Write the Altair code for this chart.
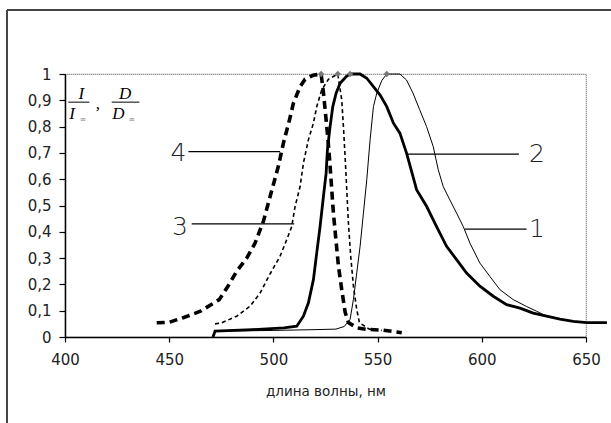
import altair as alt
import pandas as pd

# ---------------- data ----------------
wl1 = [471, 472, 500, 520, 530, 534, 536.8, 538.4, 540, 541.6, 543.2, 544.8, 546.4, 548, 549.6, 552, 554.4,
       557, 560.7, 563.9, 567, 570.2, 573.5, 576.7, 579.1, 581.5, 584.7, 587.9, 591.1, 594.3, 599.1, 603.9,
       608.7, 615.1, 621.5, 626.3, 631.1, 637.5, 643.9, 650.3, 660]
v1 = [0.0, 0.022, 0.025, 0.028, 0.03, 0.04, 0.067, 0.143, 0.244, 0.345, 0.471, 0.598, 0.75, 0.876, 0.927, 0.975, 1.0,
      1.0, 1.0, 0.977, 0.927, 0.864, 0.8, 0.724, 0.636, 0.572, 0.521, 0.471, 0.42, 0.357, 0.281, 0.23,
      0.18, 0.142, 0.116, 0.098, 0.079, 0.068, 0.059, 0.055, 0.055]

wl2 = [471, 472, 490, 505, 511.2, 514.4, 516.8, 519.2, 520.8, 522.4, 524, 525.3, 525.9, 527.2, 528.5, 530.1, 532,
       535.2, 536.8, 541.6, 544.8, 548, 551.2, 554.4, 557.6, 560.7, 563.9, 567, 568.7, 573.5, 578.3, 583.1,
       587.9, 592.7, 599.1, 605.5, 611.9, 618.3, 624.7, 631.1, 637.5, 643.9, 650.3, 660]
v2 = [0.0, 0.022, 0.028, 0.035, 0.041, 0.079, 0.13, 0.218, 0.32, 0.42, 0.534, 0.623, 0.71, 0.8, 0.876, 0.927, 0.965,
      0.992, 1.0, 1.0, 0.984, 0.952, 0.92, 0.876, 0.813, 0.775, 0.699, 0.61, 0.56, 0.497, 0.42, 0.345,
      0.294, 0.243, 0.193, 0.155, 0.123, 0.11, 0.091, 0.079, 0.068, 0.059, 0.055, 0.055]

wl3 = [472, 475.2, 482.4, 488.8, 493.6, 498.4, 503.2, 506.4, 508.8, 510.4, 512.8, 514.4, 516.8, 519.2, 520.8,
       523.2, 526.4, 530.9, 532.8, 533.6, 534.4, 535.2, 536, 537.1, 538.4, 540, 541.3, 546, 552]
v3 = [0.05, 0.054, 0.079, 0.117, 0.167, 0.24, 0.307, 0.37, 0.42, 0.496, 0.572, 0.661, 0.75, 0.813, 0.876,
      0.94, 0.98, 1.0, 0.901, 0.8, 0.686, 0.56, 0.433, 0.307, 0.193, 0.104, 0.054, 0.03, 0.025]

wl4 = [444, 450, 457, 465, 474, 478.2, 482.4, 487.2, 491.2, 495.2, 497.6, 500, 502.4, 504.8, 507.7, 509.6, 512.8,
       515.2, 519, 522.9, 524, 525, 526.2, 527.2, 528, 528.8, 530, 531.2, 532.8, 534.4, 536, 540, 544.8,
       552.8, 561.6]
v4 = [0.054, 0.056, 0.074, 0.098, 0.142, 0.193, 0.25, 0.3, 0.357, 0.44, 0.51, 0.58, 0.65, 0.737, 0.825, 0.889,
      0.952, 0.98, 0.995, 1.0, 0.93, 0.85, 0.75, 0.65, 0.56, 0.47, 0.37, 0.27, 0.18, 0.095, 0.055, 0.035,
      0.029, 0.026, 0.016]

peak_wl = [522.9, 530.9, 536.8, 554.4]
peak_v = [1.0, 1.0, 1.0, 1.0]

curve_labels = ["1", "2", "3", "4"]
label_wl = [626.5, 626.5, 455.2, 454.4]
label_v = [0.41, 0.695, 0.42, 0.70]
leader_wl1 = [591.9, 564.0, 460.8, 459.2]
leader_wl2 = [621.5, 617.8, 510.0, 503.2]
leader_v = [0.41, 0.695, 0.43, 0.705]

x_ticks = [400, 450, 500, 550, 600, 650]
y_ticks = [0, 0.1, 0.2, 0.3, 0.4, 0.5, 0.6, 0.7, 0.8, 0.9, 1.0]

# fraction header  I/I∞ , D/D∞
frac_text = ["I", "I", "D", "D", ","]
frac_wl = [407.8, 403.4, 428.8, 425.6, 415.8]
frac_v = [0.905, 0.83, 0.905, 0.83, 0.866]
inf_wl = [408.6, 432.0]
inf_v = [0.818, 0.818]
bar_wl1 = [401.6, 422.4]
bar_wl2 = [411.7, 435.7]
bar_v = [0.893, 0.893]

# ---------------- chart ----------------
xs = alt.Scale(domain=[400, 650], nice=False, zero=False)
ys = alt.Scale(domain=[0, 1], nice=False)

xax = alt.Axis(values=x_ticks, title="длина волны, нм", grid=False, tickSize=5, labelPadding=10,
               labelFlush=False, labelOverlap=False,
               labelFont="DejaVu Sans", labelFontSize=15, labelColor="#222", labelFontWeight="normal",
               titleFont="DejaVu Sans", titleFontSize=13.5, titleFontWeight="normal", titleColor="#222",
               titleY=54, titleBaseline="middle",
               domainColor="black", domainWidth=1.5, tickColor="black", tickWidth=1.2)
yax = alt.Axis(values=y_ticks, title=None, grid=False, tickSize=6, labelPadding=8,
               labelFlush=False, labelOverlap=False,
               labelExpr="replace(format(datum.value, '.1~f'), '.', ',')",
               labelFont="DejaVu Sans", labelFontSize=15, labelColor="#222",
               domainColor="black", domainWidth=1.5, tickColor="black", tickWidth=1.2)


def X(field):
    return alt.X(field, type="quantitative", scale=xs, axis=xax)


def Y(field):
    return alt.Y(field, type="quantitative", scale=ys, axis=yax)


def curve(wl, v, width, dash=None):
    df = pd.DataFrame({"wl": wl, "v": v})
    kw = dict(color="black", strokeWidth=width, clip=False)
    if dash:
        kw["strokeDash"] = dash
    return alt.Chart(df).mark_line(**kw).encode(x=X("wl"), y=Y("v"))


c1 = curve(wl1, v1, 1.0)
c2 = curve(wl2, v2, 2.8)
c3 = curve(wl3, v3, 1.6, [4, 3])
c4 = curve(wl4, v4, 3.6, [8, 5])

peaks = alt.Chart(pd.DataFrame({"wl": peak_wl, "v": peak_v})).mark_point(
    shape="diamond", filled=True, color="#777", size=40, opacity=1
).encode(x=X("wl"), y=Y("v"))

leaders = alt.Chart(pd.DataFrame({"a": leader_wl1, "b": leader_wl2, "v": leader_v})).mark_rule(
    color="black", strokeWidth=1.2
).encode(x=X("a"), x2="b:Q", y=Y("v"))

labels = alt.Chart(pd.DataFrame({"t": curve_labels, "wl": label_wl, "v": label_v})).mark_text(
    font="DejaVu Sans", fontSize=25, fontWeight=200, color="#222", align="center", baseline="middle"
).encode(x=X("wl"), y=Y("v"), text="t:N")

frac = alt.Chart(pd.DataFrame({"t": frac_text, "wl": frac_wl, "v": frac_v})).mark_text(
    font="Liberation Serif", fontStyle="italic", fontSize=17, color="black", align="center",
    baseline="alphabetic"
).encode(x=X("wl"), y=Y("v"), text="t:N")

infs = alt.Chart(pd.DataFrame({"t": ["∞", "∞"], "wl": inf_wl, "v": inf_v})).mark_text(
    font="DejaVu Sans", fontSize=8, color="#888", align="center", baseline="alphabetic"
).encode(x=X("wl"), y=Y("v"), text="t:N")

bars = alt.Chart(pd.DataFrame({"a": bar_wl1, "b": bar_wl2, "v": bar_v})).mark_rule(
    color="black", strokeWidth=1
).encode(x=X("a"), x2="b:Q", y=Y("v"))

one = pd.DataFrame({"k": [0]})
frame_left = alt.Chart(one).mark_rule(color="#444", strokeWidth=2).encode(
    x=alt.value(-58), y=alt.value(-64), y2=alt.value(360))
frame_top = alt.Chart(one).mark_rule(color="#444", strokeWidth=2).encode(
    x=alt.value(-58), x2=alt.value(560), y=alt.value(-64))

chart = alt.layer(
    c1, c2, c3, c4, peaks, leaders, labels, frac, infs, bars, frame_left, frame_top
).properties(
    width=521, height=263,
    autosize=alt.AutoSizeParams(type="none"),
    padding={"left": 65, "top": 74, "right": 25, "bottom": 86},
    background="white",
).configure_view(stroke="#666", strokeDash=[1, 1], strokeWidth=1.2)

chart.save("out.html", embed_options={"renderer": "svg", "actions": False})
